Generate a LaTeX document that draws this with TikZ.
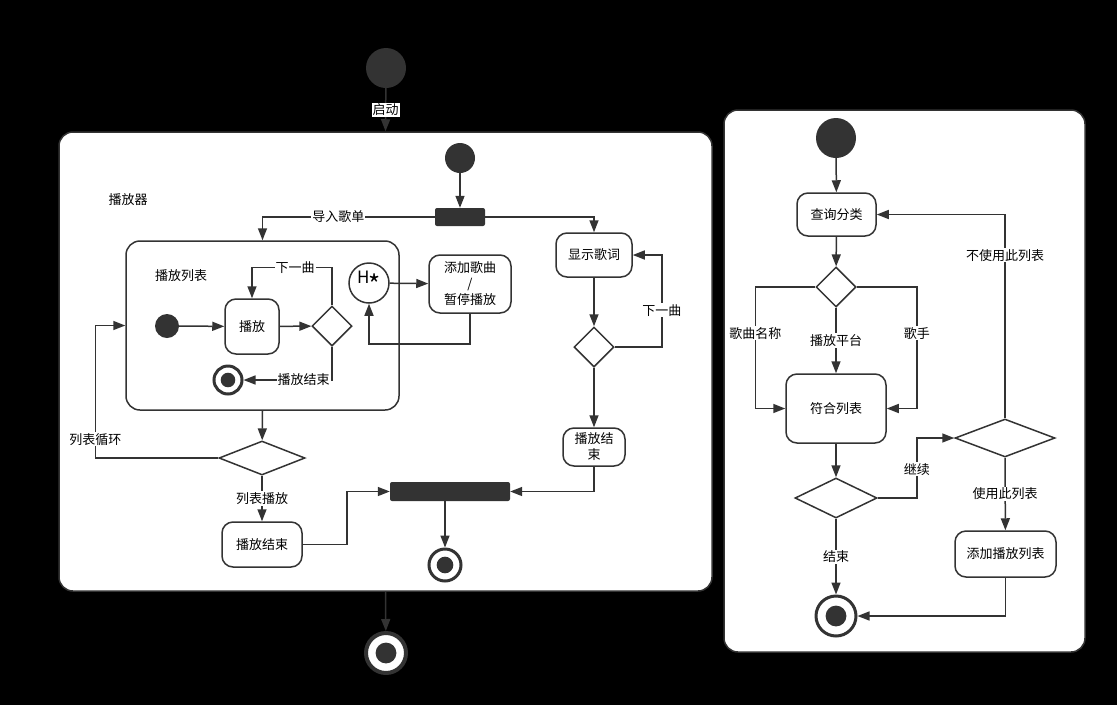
\documentclass[tikz,border=0pt]{standalone}
\usepackage{fontspec}
\setmainfont{Noto Sans CJK SC}
\usetikzlibrary{shapes.geometric,arrows.meta}
\definecolor{dk}{HTML}{333333}
\begin{document}
\begin{tikzpicture}[x=1pt,y=-1pt,font=\fontsize{13}{16}\selectfont,
		init/.style={circle, fill=dk, inner sep=0, minimum size=#1},
		endst/.style={circle, draw=dk, fill=white, line width=3pt, inner sep=0, minimum size=#1,
			path picture={\fill[dk] (path picture bounding box.center) circle (#1*0.26);}}]
			\tikzstyle{act} = [draw=dk, fill=white, rectangle, rounded corners=11pt, line width=1.5pt, inner sep=0, align=center]
			\tikzstyle{dec} = [draw=dk, fill=white, diamond, line width=1.5pt, inner sep=0]
			\tikzstyle{bar} = [fill=dk, rectangle, rounded corners=2pt, inner sep=0]
			\tikzstyle{flow} = [draw=dk, line width=1.5pt, -{Triangle[length=12pt,width=9pt]}]
			\tikzstyle{lbl} = [fill=white, inner sep=1pt]

			\useasboundingbox[fill=black] (0,0) rectangle (1117,705);

			\node[act, rounded corners=14pt, minimum width=653pt, minimum height=459pt] (mbox) at (385.5,361.5) {};
			\node[act, rounded corners=14pt, minimum width=361pt, minimum height=542pt] (rbox) at (904.5,381) {};
			\node[act, rounded corners=14pt, minimum width=273pt, minimum height=169pt] (plist) at (262.5,325.5) {};

			\node[init=40pt] (ost) at (386,68) {};
			\node[endst=40pt, line width=4pt] (oend) at (386,653) {};
			\draw[flow] (ost) -- node[lbl] {启动} (mbox.north);
			\draw[flow] (mbox.south) -- (oend);

			\node at (128,200) {播放器};
			\node at (181,276) {播放列表};
			\node[init=30pt] (st1) at (460,158) {};
			\node[bar, minimum width=50pt, minimum height=18pt] (fork) at (460,217) {};
			\node[init=24pt] (init) at (167,326) {};
			\node[act, minimum width=54pt, minimum height=55pt] (play) at (252,326.5) {播放};
			\node[dec, minimum width=40pt, minimum height=40pt] (dec1) at (332,326) {};
			\node[endst=28pt] (end1) at (228,380) {};
			\node[circle, draw=dk, fill=white, line width=1.5pt, minimum size=40pt, inner sep=0, font=\fontsize{17}{17}\selectfont] (hist) at (369,283) {H\kern-1pt\raisebox{-11pt}{\fontsize{26}{26}\selectfont *}};
			\node[act, minimum width=82pt, minimum height=58pt] (addsong) at (470,284) {添加歌曲\\/\\暂停播放};
			\node[dec, minimum width=86pt, minimum height=34pt] (dec2) at (262,458) {};
			\node[act, minimum width=80pt, minimum height=45pt] (endplay) at (262,544.5) {播放结束};
			\node[bar, minimum width=120pt, minimum height=19pt] (join) at (450,491.5) {};
			\node[endst=32pt] (end2) at (445,565) {};
			\node[act, minimum width=76pt, minimum height=44pt] (lyric) at (594,255) {显示歌词};
			\node[dec, minimum width=40pt, minimum height=40pt] (dec3) at (594,347) {};
			\node[act, minimum width=62pt, minimum height=38pt] (lend) at (594,447) {播放结\\束};

			\draw[flow] (st1) -- (fork);
			\draw[flow] (fork.west) -| node[lbl, pos=0.28] {导入歌单} (plist.north);
			\draw[flow] (fork.east) -| (lyric.north);
			\draw[flow] (init) -- (play);
			\draw[flow] (play) -- (dec1);
			\draw[flow] (dec1.north) -- ++(0,-38) -| node[lbl, pos=0.23] {下一曲} (play.north);
			\draw[flow] (dec1.south) |- node[lbl, pos=0.66] {播放结束} (end1.east);
			\draw[flow] (hist) -- (addsong);
			\draw[flow] (addsong.south) -- ++(0,30) -| (hist.south);
			\draw[flow] (plist.south) -- (dec2);
			\draw[flow] (dec2.west) -- ++(-123,0) |- node[lbl, pos=0.07] {列表循环} (plist.west);
			\draw[flow] (dec2.south) -- node[lbl] {列表播放} (endplay);
			\draw[flow] (endplay.east) -- ++(44,0) |- (join.west);
			\draw[flow] (join.south -| end2) -- (end2);
			\draw[flow] (lyric) -- (dec3);
			\draw[flow] (dec3.east) -- ++(47,0) |- node[lbl, pos=0.2] {下一曲} (lyric.east);
			\draw[flow] (dec3) -- (lend);
			\draw[flow] (lend.south) |- (join.east);

			\node[init=40pt] (st2) at (836,138) {};
			\node[act, minimum width=79pt, minimum height=43pt] (query) at (836.5,214.5) {查询分类};
			\node[dec, minimum width=40pt, minimum height=40pt] (dec4) at (836,287) {};
			\node[act, minimum width=100pt, minimum height=69pt] (match) at (836,408.5) {符合列表};
			\node[dec, minimum width=82pt, minimum height=40pt] (dec5) at (836,498) {};
			\node[dec, minimum width=100pt, minimum height=38pt] (dec6) at (1005,438) {};
			\node[act, minimum width=101pt, minimum height=46pt] (addlist) at (1005.5,554) {添加播放列表};
			\node[endst=40pt] (end3) at (836,616) {};

			\draw[flow] (st2) -- (query);
			\draw[flow] (query) -- (dec4);
			\draw[flow] (dec4.west) -- ++(-60,0) |- node[lbl, pos=0.19] {歌曲名称} (match.west);
			\draw[flow] (dec4.south) -- node[lbl] {播放平台} (match);
			\draw[flow] (dec4.east) -- ++(60,0) |- node[lbl, pos=0.19] {歌手} (match.east);
			\draw[flow] (match) -- (dec5);
			\draw[flow] (dec5.east) -- ++(39,0) |- node[lbl, pos=0.24] {继续} (dec6.west);
			\draw[flow] (dec6.north) |- node[lbl, pos=0.4] {不使用此列表} (query.east);
			\draw[flow] (dec6.south) -- node[lbl] {使用此列表} (addlist);
			\draw[flow] (addlist.south) |- (end3.east);
			\draw[flow] (dec5.south) -- node[lbl] {结束} (end3);
	\end{tikzpicture}
\end{document}
